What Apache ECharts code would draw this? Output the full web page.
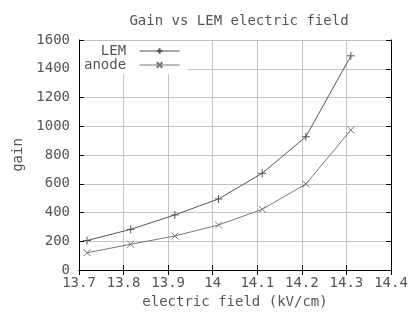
<!DOCTYPE html>
<html><head><meta charset="utf-8">
<script src="https://cdn.jsdelivr.net/npm/echarts@6/dist/echarts.min.js"></script>
<style>html,body{margin:0;padding:0;background:#fff}#c{width:415px;height:312px}</style>
</head><body><div id="c"></div>
<script>
const fieldLEM = [13.718, 13.816, 13.915, 14.013, 14.111, 14.209, 14.31];
const gainLEM = [205, 283, 383, 494, 673, 927, 1490];
const fieldAnode = [13.718, 13.816, 13.915, 14.013, 14.111, 14.209, 14.31];
const gainAnode = [120, 179, 237, 313, 422, 598, 974];
const xTicks = [13.7, 13.8, 13.9, 14, 14.1, 14.2, 14.3, 14.4];
const yTicks = [0, 200, 400, 600, 800, 1000, 1200, 1400, 1600];

const FONT = 'DejaVu Sans Mono';
const TXT = '#555';
const chart = echarts.init(document.getElementById('c'));
const plus = 'path://M0,5L10,5M5,0L5,10';
const cross = 'path://M0,0L10,10M10,0L0,10';
const fmtX = v => { const s = (+v).toFixed(1); return s.endsWith('.0') ? s.slice(0, -2) : s; };
const axisCommon = {
  axisLine: { show: true, lineStyle: { color: '#000', width: 1 } },
  axisTick: { show: true, inside: true, length: 5, lineStyle: { color: '#000' } },
  splitLine: { show: true, lineStyle: { color: '#c4c4c4', width: 1 } }
};
chart.setOption({
  animation: false,
  title: {
    text: 'Gain vs LEM electric field', left: 234, top: 9, textAlign: 'center',
    textStyle: { fontFamily: FONT, fontSize: 14, fontWeight: 'normal', color: TXT }
  },
  legend: {
    orient: 'vertical', left: 80, top: 41, align: 'right',
    backgroundColor: '#fff', padding: [3, 8, 2, 4], itemGap: 0,
    itemWidth: 40, itemHeight: 7,
    lineStyle: { width: 1 },
    formatter: n => n.padStart(5, ' ') + ' ',
    textStyle: { fontFamily: FONT, fontSize: 14, color: TXT },
    data: ['LEM', 'anode']
  },
  grid: { left: 79, right: 24, top: 40, bottom: 42, containLabel: false, outerBoundsMode: 'none' },
  xAxis: [{
    type: 'value', min: xTicks[0], max: xTicks[xTicks.length - 1], interval: 0.1,
    name: 'electric field (kV/cm)', nameLocation: 'middle', nameGap: 9,
    nameTextStyle: { fontFamily: FONT, fontSize: 14, color: TXT },
    axisLabel: { formatter: fmtX, margin: 6, fontFamily: FONT, fontSize: 14, color: TXT },
    ...axisCommon
  }, {
    type: 'value', position: 'top', min: xTicks[0], max: xTicks[xTicks.length - 1], interval: 0.1,
    axisLabel: { show: false }, splitLine: { show: false },
    axisLine: axisCommon.axisLine, axisTick: axisCommon.axisTick
  }],
  yAxis: [{
    type: 'value', min: yTicks[0], max: yTicks[yTicks.length - 1], interval: 200,
    name: 'gain', nameLocation: 'middle', nameGap: 50,
    nameTextStyle: { fontFamily: FONT, fontSize: 14, color: TXT },
    axisLabel: { formatter: v => String(v), margin: 9, fontFamily: FONT, fontSize: 14, color: TXT },
    ...axisCommon
  }, {
    type: 'value', position: 'right', min: yTicks[0], max: yTicks[yTicks.length - 1], interval: 200,
    axisLabel: { show: false }, splitLine: { show: false },
    axisLine: axisCommon.axisLine, axisTick: axisCommon.axisTick
  }],
  series: [{
    name: 'LEM', type: 'line', symbol: plus, symbolSize: 8,
    lineStyle: { color: '#555', width: 1 },
    itemStyle: { color: '#555', borderColor: '#555', borderWidth: 1 },
    data: fieldLEM.map((x, i) => [x, gainLEM[i]])
  }, {
    name: 'anode', type: 'line', symbol: cross, symbolSize: 7,
    lineStyle: { color: '#777', width: 1 },
    itemStyle: { color: '#777', borderColor: '#777', borderWidth: 1 },
    data: fieldAnode.map((x, i) => [x, gainAnode[i]])
  }]
});
</script></body></html>
